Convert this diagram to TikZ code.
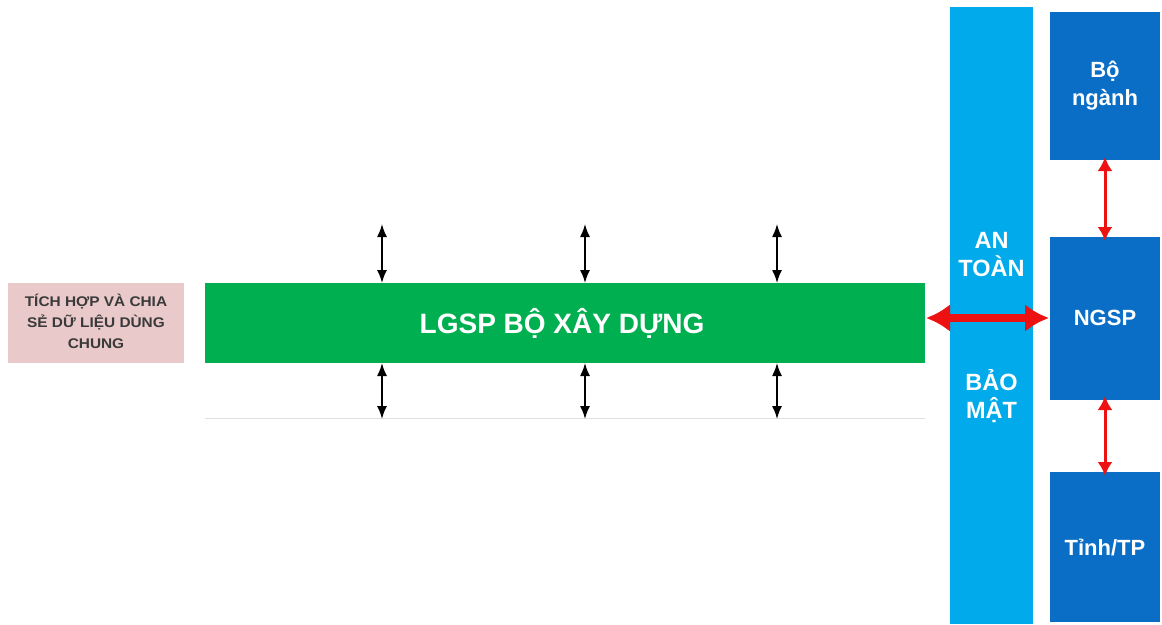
\documentclass[tikz,border=0pt]{standalone}
\usepackage{fontspec}
\setmainfont{Liberation Sans}
\usetikzlibrary{arrows.meta}
\definecolor{pinkbox}{HTML}{E9C9C9}
\definecolor{greenbox}{HTML}{00B050}
\definecolor{lightblue}{HTML}{00AAEB}
\definecolor{darkblue}{HTML}{0B6EC6}
\definecolor{redarrow}{HTML}{EE1111}
\definecolor{txtgray}{HTML}{3A3A3A}
\tikzset{
  px/.style={x=1pt,y=-1pt},
  bluetext/.style={text=white,font=\bfseries\fontsize{22}{28}\selectfont,align=center},
  blackarrow/.style={{Latex[length=13pt,width=10pt]}-{Latex[length=13pt,width=10pt]},line width=1.6pt,black},
  redsmall/.style={{Latex[length=14pt,width=15pt]}-{Latex[length=14pt,width=15pt]},line width=3pt,redarrow},
  redbig/.style={{Latex[length=24pt,width=28pt]}-{Latex[length=24pt,width=28pt]},line width=8pt,redarrow},
}
\begin{document}
\begin{tikzpicture}[px]
\useasboundingbox (0,0) rectangle (1162,624);
\fill[white] (0,0) rectangle (1162,624);
% pink box
\fill[pinkbox] (8,283) rectangle (184,363);
\node[text=txtgray,font=\bfseries\fontsize{14}{21}\selectfont,align=center,xscale=1.1] (pink) at (96,321) {TÍCH HỢP VÀ CHIA\\SẺ DỮ LIỆU DÙNG\\CHUNG};
% green box
\fill[greenbox] (205,283) rectangle (925,363);
\node[text=white,font=\bfseries\fontsize{28}{32}\selectfont] (lgsp) at (562,323) {LGSP BỘ XÂY DỰNG};
\coordinate (gE) at (925,318);
% gray base line
\draw[gray!25,line width=1pt] (205,418) -- (925,418);
% black arrows
\foreach \x/\n in {382/a,585/b,777/c}{
  \coordinate (t\n) at (\x,224);
  \coordinate (gt\n) at (\x,283);
  \coordinate (gb\n) at (\x,363);
  \coordinate (b\n) at (\x,419);
  \draw[blackarrow] (t\n) -- (gt\n);
  \draw[blackarrow] (gb\n) -- (b\n);
}
% light blue bar
\fill[lightblue] (950,7) rectangle (1033,624);
\node[bluetext,font=\bfseries\fontsize{23.5}{28}\selectfont] (an) at (991.5,255) {AN\\TOÀN};
\node[bluetext,font=\bfseries\fontsize{23.5}{28}\selectfont] (bao) at (991.5,396) {BẢO\\MẬT};
% dark blue boxes
\path[fill=darkblue] (1050,12) rectangle (1160,160);
\node[bluetext] (bo) at (1105,86) {Bộ\\ngành};
\coordinate (boS) at (1105,160);
\path[fill=darkblue] (1050,237) rectangle (1160,400);
\node[bluetext] (ngsp) at (1105,318) {NGSP};
\coordinate (ngN) at (1105,237);
\coordinate (ngS) at (1105,400);
\coordinate (ngW) at (1050,318);
\path[fill=darkblue] (1050,472) rectangle (1160,622);
\node[bluetext] (tinh) at (1105,547) {Tỉnh/TP};
\coordinate (tiN) at (1105,472);
% red arrows
\draw[redsmall] ([yshift=3pt]boS) -- ([yshift=-4pt]ngN);
\draw[redsmall] ([yshift=4pt]ngS) -- ([yshift=-4pt]tiN);
\draw[redbig] ([xshift=1pt]gE) -- ([xshift=-1pt]ngW);
\end{tikzpicture}
\end{document}
